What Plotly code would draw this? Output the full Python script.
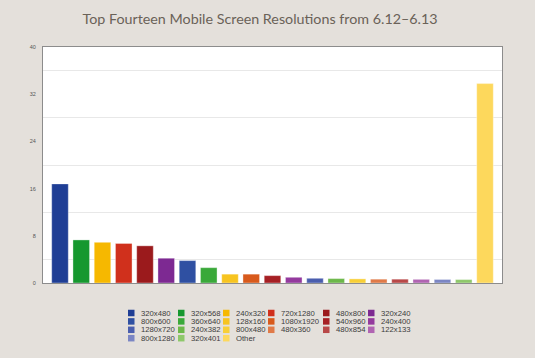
import plotly.graph_objects as go

# Bars in drawing order
bar_labels = ["320x480", "320x568", "240x320", "720x1280", "480x800", "320x240",
              "800x600", "360x640", "128x160", "1080x1920", "540x960", "240x400",
              "1280x720", "240x382", "800x480", "480x360", "480x854", "122x133",
              "800x1280", "320x401", "Other"]
bar_values = [16.8, 7.3, 6.9, 6.7, 6.3, 4.2,
              3.8, 2.6, 1.5, 1.5, 1.25, 0.97,
              0.8, 0.75, 0.7, 0.65, 0.65, 0.62,
              0.6, 0.58, 33.8]
bar_colors = ["#1f3e95", "#16982f", "#f6b800", "#d0301c", "#9b1a1c", "#7d2992",
              "#2f50a2", "#3aa93a", "#f7c420", "#d85a1c", "#a62024", "#943a9e",
              "#4a5eae", "#6cb84a", "#f8cf36", "#e07a48", "#b84848", "#b064b2",
              "#7b86c4", "#8ec86a", "#fdd85c"]

# Legend grid (row-major, 6 columns)
legend_labels = ["320x480", "320x568", "240x320", "720x1280", "480x800", "320x240",
                 "800x600", "360x640", "128x160", "1080x1920", "540x960", "240x400",
                 "1280x720", "240x382", "800x480", "480x360", "480x854", "122x133",
                 "800x1280", "320x401", "Other"]
legend_col_x = [128, 178, 223, 268, 323, 368]
legend_row_y = [313, 321.4, 329.8, 338.2]

y_tick_vals = [0, 8, 16, 24, 32, 40]

W, H = 535, 358
L, R, T, B = 43, 33, 47, 75


def px_to_paper_x(px):
    return (px - L) / (W - L - R)


def px_to_paper_y(py):
    return ((H - B) - py) / (H - T - B)


fig = go.Figure()
fig.add_trace(go.Bar(
    x=list(range(len(bar_labels))), y=bar_values,
    marker=dict(color=bar_colors, line=dict(color="rgba(255,255,255,0.6)", width=0.6)),
    width=0.78, hovertext=bar_labels, showlegend=False,
))

color_of = dict(zip(bar_labels, bar_colors))
sw = 6.5
for i, lab in enumerate(legend_labels):
    r, c = divmod(i, 6)
    x0 = legend_col_x[c]
    yc = legend_row_y[r]
    fig.add_shape(type="rect", xref="paper", yref="paper",
                  x0=px_to_paper_x(x0), x1=px_to_paper_x(x0 + sw),
                  y0=px_to_paper_y(yc + sw / 2), y1=px_to_paper_y(yc - sw / 2),
                  fillcolor=color_of[lab], line=dict(width=0), layer="above")
    fig.add_annotation(xref="paper", yref="paper",
                       x=px_to_paper_x(x0 + 11), y=px_to_paper_y(yc),
                       text=lab, showarrow=False, xanchor="left", yanchor="middle",
                       font=dict(family="Arial, Liberation Sans", size=7.7, color="#3c3c3c"))

fig.update_layout(
    width=W, height=H,
    margin=dict(l=L, r=R, t=T, b=B, pad=0),
    paper_bgcolor="#e4e0db",
    plot_bgcolor="#ffffff",
    title=dict(text="Top Fourteen Mobile Screen Resolutions from 6.12\u20136.13",
               x=260 / W, xanchor="center", y=1 - 19 / H, yanchor="middle",
               font=dict(family="Lato, Open Sans", size=14.3, color="#6a6258")),
    bargap=0.22,
    xaxis=dict(range=[-0.8, 20.8], showticklabels=False, showgrid=False, zeroline=False,
               showline=True, linecolor="#8c8c8c", linewidth=1, mirror=True, ticks=""),
    yaxis=dict(range=[0, 40], tickvals=y_tick_vals, showgrid=False, zeroline=False,
               showline=True, linecolor="#8c8c8c", linewidth=1, mirror=True,
               ticks="", ticklabelstandoff=5,
               tickfont=dict(family="Arial, Liberation Sans", size=5.5, color="#555555"),
               minor=dict(tick0=4, dtick=8, showgrid=True, gridcolor="#e8e8e8", gridwidth=1)),
)

fig.write_html("out.html",
               config={"displayModeBar": False},
               post_script="document.body.style.margin='0';"
                           "document.body.style.background='#e4e0db';")
